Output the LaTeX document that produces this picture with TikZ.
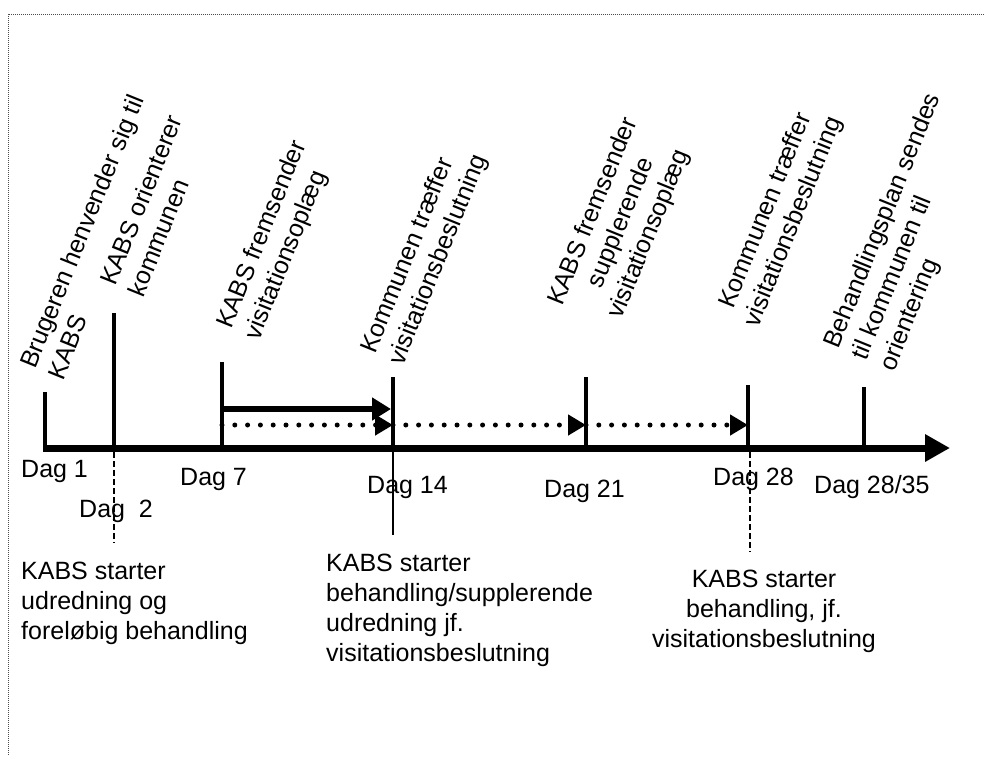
\documentclass[tikz,border=0pt]{standalone}
\usepackage{fontspec}
\setmainfont{Liberation Sans}
\usetikzlibrary{arrows.meta,positioning}

\begin{document}
\begin{tikzpicture}[x=1pt,y=1pt,
    every node/.style={inner sep=0pt,font=\fontsize{25}{30}\selectfont},
    tick/.style={line width=4pt},
    guide/.style={line width=1.5pt,dash pattern=on 6pt off 3pt},
    solidarrow/.style={line width=6pt,-{Triangle[length=19pt,width=22pt]}},
    dotarrow/.style={line width=5pt,line cap=round,dash pattern=on 0pt off 12.8pt,-{Triangle[length=18pt,width=20pt]}},
    event/.style={rotate=68,anchor=north west},
    daylabel/.style={anchor=base west}]
    \useasboundingbox (0,0) rectangle (984,-756);

    \draw [black!70,line width=1pt,dash pattern=on 1pt off 1pt] (984,-14) -- (8,-14) -- (8,-756);

    \coordinate (d1) at (45,-448);
    \coordinate (d2) at (114,-448);
    \coordinate (d7) at (222,-448);
    \coordinate (d14) at (393,-448);
    \coordinate (d21) at (586,-448);
    \coordinate (d28) at (748,-448);
    \coordinate (d35) at (864,-448);
    \coordinate (axisend) at (950,-448);

    \draw [tick] (d1) -- (45,-392);
    \draw [tick] (d2) -- (114,-313);
    \draw [tick] (d7) -- (222,-362);
    \draw [tick] (d14) -- (393,-377);
    \draw [tick] (d21) -- (586,-377);
    \draw [tick] (d28) -- (748,-385);
    \draw [tick] (d35) -- (864,-387);

    \draw [line width=7pt,-{Triangle[length=25pt,width=26pt]}] (43,-448) -- (axisend);

    \coordinate (s7) at (222,-409);
    \coordinate (s14) at (391,-409);
    \draw [solidarrow] (s7) -- (s14);

    \coordinate (p7) at (222,-425);
    \coordinate (p14) at (393,-425);
    \coordinate (p21) at (586,-425);
    \coordinate (p28) at (748,-425);
    \draw [dotarrow] (p7) -- (p14);
    \draw [dotarrow] (p14) -- (p21);
    \draw [dotarrow] (p21) -- (p28);

    \coordinate (g2) at (114,-543);
    \coordinate (g14) at (393,-535);
    \coordinate (g28) at (750,-552);
    \draw [guide] (114,-452) -- (g2);
    \draw [line width=1.5pt] (393,-452) -- (g14);
    \draw [guide] (750,-452) -- (g28);

    \node [event,align=left] (e1) at (18.3,-363.3) {Brugeren henvender sig til\\KABS};
    \node [event,align=left] (e2) at (98.3,-280.3) {KABS orienterer\\kommunen};
    \node [event,align=left] (e7) at (214.3,-323.3) {KABS fremsender\\visitationsoplæg};
    \node [event,align=left] (e14) at (358.3,-348.3) {Kommunen træffer\\visitationsbeslutning};
    \node [event,align=center] (e21) at (545.3,-300.3) {KABS fremsender\\supplerende\\visitationsoplæg};
    \node [event,align=center] (e28) at (713.4,-310.4) {Kommunen træffer\\visitationsbeslutning};
    \node [event,align=left] (e35) at (821.3,-343.3) {Behandlingsplan sendes\\til kommunen til\\orientering};

    \node [daylabel] (l1) at (21,-477) {Dag 1};
    \node [daylabel] (l2) at (79,-517) {Dag\ \ 2};
    \node [daylabel] (l7) at (180,-485) {Dag 7};
    \node [daylabel] (l14) at (367,-493) {Dag 14};
    \node [daylabel] (l21) at (544,-497) {Dag 21};
    \node [daylabel] (l28) at (713,-485) {Dag 28};
    \node [daylabel] (l35) at (814,-493) {Dag 28/35};

    \node [anchor=north west,align=left] (b2) at (21,-562.1) {KABS starter\\udredning og\\foreløbig behandling};
    \node [anchor=north west,align=left] (b14) at (326,-554.1) {KABS starter\\behandling/supplerende\\udredning jf.\\visitationsbeslutning};
    \node [anchor=north,align=center] (b28) at (764,-570.1) {KABS starter\\behandling, jf.\\visitationsbeslutning};
\end{tikzpicture}
\end{document}
